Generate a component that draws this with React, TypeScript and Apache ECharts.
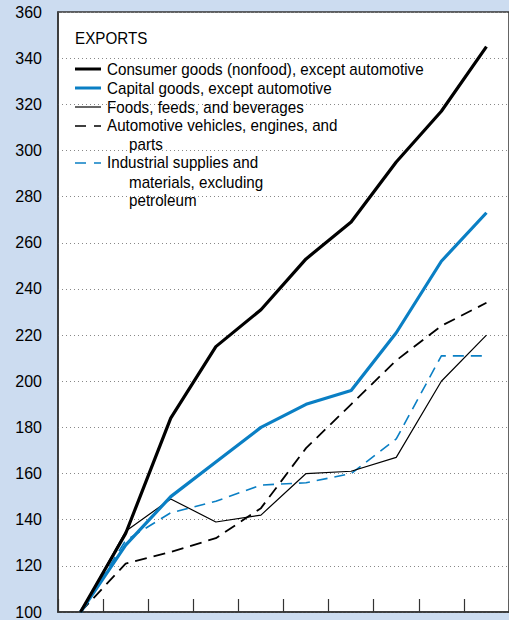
import React, { useEffect, useRef } from "react";
import * as echarts from "echarts";

const categories = ["1", "2", "3", "4", "5", "6", "7", "8", "9", "10"];
const consumerGoods = [100, 134, 184, 215, 231, 253, 269, 295, 317, 345];
const capitalGoods = [100, 129, 150, 165, 180, 190, 196, 221, 252, 273];
const foods = [100, 135, 149, 139, 142, 160, 161, 167, 200, 220];
const automotive = [100, 121, 126, 132, 145, 171, 190, 209, 224, 234];
const industrial = [100, 131, 143, 148, 155, 156, 160, 175, 211, 211];

const seriesNames = [
  "Consumer goods (nonfood), except automotive",
  "Capital goods, except automotive",
  "Foods, feeds, and beverages",
  "Automotive vehicles, engines, and parts",
  "Industrial supplies and materials, excluding petroleum",
];

const BLUE = "#0a7fc4";
const FONT = "Liberation Sans, Arial, Helvetica, sans-serif";

export default function App() {
  const ref = useRef<HTMLDivElement>(null);
  useEffect(() => {
    document.body.style.margin = "0";
    const chart = echarts.init(ref.current!, undefined, { renderer: "svg" });
    const legendText = (x: number, y: number, text: string, size = 16) => ({
      type: "text",
      x,
      y,
      scaleX: 0.95,
      style: { text, fontSize: size, fontFamily: FONT, fill: "#000", verticalAlign: "middle", align: "left" },
      z: 100,
    });
    const legendLine = (x1: number, x2: number, y: number, color: string, width: number, dash?: number[]) => ({
      type: "line",
      shape: { x1, y1: y, x2, y2: y },
      style: { stroke: color, lineWidth: width, lineDash: dash },
      z: 100,
    });
    const option: any = {
      animation: false,
      backgroundColor: "#ccdcf0",
      grid: {
        left: 58,
        top: 12,
        width: 455,
        height: 606,
        show: true,
        backgroundColor: "#ffffff",
        borderColor: "#333333",
        borderWidth: 1.5,
      },
      xAxis: {
        type: "category",
        data: categories,
        boundaryGap: true,
        axisLine: { show: true, lineStyle: { color: "#333333", width: 1.5 } },
        axisTick: { show: true, inside: true, length: 13, lineStyle: { color: "#333333", width: 1.2 } },
        axisLabel: { show: false },
        splitLine: { show: false },
      },
      yAxis: {
        type: "value",
        min: 100,
        max: 360,
        interval: 20,
        axisLine: { show: true, lineStyle: { color: "#333333", width: 1.5 } },
        axisTick: { show: false },
        axisLabel: { fontSize: 16, color: "#000", margin: 16, fontFamily: FONT },
        splitLine: { show: true, lineStyle: { color: "#888888", width: 1, type: [1, 3] } },
      },
      series: [
        {
          name: seriesNames[4],
          type: "line",
          data: industrial,
          symbol: "none",
          lineStyle: { color: BLUE, width: 1.6, type: [11, 7] },
        },
        {
          name: seriesNames[3],
          type: "line",
          data: automotive,
          symbol: "none",
          lineStyle: { color: "#000", width: 1.8, type: [12, 7] },
        },
        {
          name: seriesNames[2],
          type: "line",
          data: foods,
          symbol: "none",
          lineStyle: { color: "#000", width: 1.2 },
        },
        {
          name: seriesNames[1],
          type: "line",
          data: capitalGoods,
          symbol: "none",
          lineStyle: { color: BLUE, width: 3.2 },
        },
        {
          name: seriesNames[0],
          type: "line",
          data: consumerGoods,
          symbol: "none",
          lineStyle: { color: "#000", width: 3.2 },
        },
      ],
      graphic: [
        legendText(75, 38, "EXPORTS", 16),
        legendLine(75, 101, 69, "#000", 3),
        legendText(107, 69, "Consumer goods (nonfood), except automotive"),
        legendLine(75, 101, 88, BLUE, 3),
        legendText(107, 88, "Capital goods, except automotive"),
        legendLine(75, 101, 107, "#000", 1.2),
        legendText(107, 107, "Foods, feeds, and beverages"),
        legendLine(75, 101, 126, "#000", 1.5, [11, 8]),
        legendText(107, 125, "Automotive vehicles, engines, and"),
        legendText(129, 144, "parts"),
        legendLine(75, 101, 163, BLUE, 1.5, [11, 8]),
        legendText(107, 162, "Industrial supplies and"),
        legendText(129, 182, "materials, excluding"),
        legendText(129, 200, "petroleum"),
      ],
    };
    chart.setOption(option);
    return () => chart.dispose();
  }, []);
  return <div ref={ref} style={{ width: 509, height: 620 }} />;
}
